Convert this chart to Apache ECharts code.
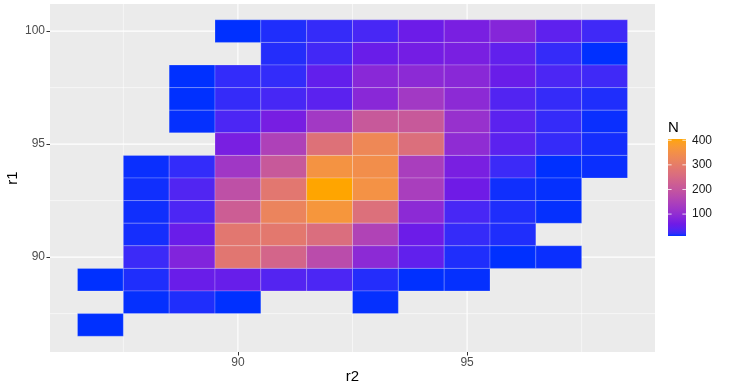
<!DOCTYPE html>
<html><head><meta charset="utf-8">
<script src="https://cdn.jsdelivr.net/npm/echarts@6/dist/echarts.min.js"></script>
<style>html,body{margin:0;padding:0;background:#fff}#c{width:730px;height:389px}</style>
</head><body><div id="c"></div>
<script>
// ---- data ----
const r2Levels = [87, 88, 89, 90, 91, 92, 93, 94, 95, 96, 97, 98];
const r1Levels = [100, 99, 98, 97, 96, 95, 94, 93, 92, 91, 90, 89, 88, 87];
const n_r1_100 = [null, null, null, 11, 17, 22, 31, 57, 70, 85, 45, 27];
const n_r1_99  = [null, null, null, null, 18, 28, 54, 65, 70, 47, 22, 11];
const n_r1_98  = [null, null, 11, 21, 21, 48, 90, 94, 90, 54, 33, 27];
const n_r1_97  = [null, null, 11, 22, 30, 43, 90, 128, 94, 37, 22, 17];
const n_r1_96  = [null, null, 12, 33, 68, 128, 208, 208, 110, 43, 22, 13];
const n_r1_95  = [null, null, null, 70, 150, 272, 330, 265, 98, 43, 22, 15];
const n_r1_94  = [null, 13, 21, 125, 208, 358, 346, 141, 70, 25, 11, 13];
const n_r1_93  = [null, 14, 36, 185, 287, 405, 355, 141, 60, 14, 12, null];
const n_r1_92  = [null, 14, 33, 220, 318, 365, 267, 94, 31, 17, 12, null];
const n_r1_91  = [null, 15, 54, 287, 290, 262, 155, 57, 22, 17, null, null];
const n_r1_90  = [null, 25, 80, 285, 240, 175, 94, 47, 17, 11, 13, null];
const n_r1_89  = [11, 17, 54, 52, 38, 33, 18, 11, 12, null, null, null];
const n_r1_88  = [null, 12, 17, 11, null, null, 12, null, null, null, null, null];
const n_r1_87  = [11, null, null, null, null, null, null, null, null, null, null, null];
const xBreaks = [90, 95];
const yBreaks = [90, 95, 100];
const xMinorBreaks = [87.5, 92.5, 97.5];
const yMinorBreaks = [87.5, 92.5, 97.5];
const legendBreaks = [100, 200, 300, 400];

// ---- build ----
const rows = [n_r1_100, n_r1_99, n_r1_98, n_r1_97, n_r1_96, n_r1_95, n_r1_94, n_r1_93,
              n_r1_92, n_r1_91, n_r1_90, n_r1_89, n_r1_88, n_r1_87];
const tiles = [];
rows.forEach((row, i) => row.forEach((n, j) => { if (n != null) tiles.push([r2Levels[j], r1Levels[i], n]); }));
const nMin = Math.min(...tiles.map(t => t[2]));
const nMax = Math.max(...tiles.map(t => t[2]));

// Lab interpolated gradient (like ggplot's scale_fill_gradient)
function s2l(c){c/=255;return c<=0.04045?c/12.92:Math.pow((c+0.055)/1.055,2.4);}
function l2s(c){c=Math.max(0,Math.min(1,c));return Math.round(255*(c<=0.0031308?12.92*c:1.055*Math.pow(c,1/2.4)-0.055));}
function hexToLab(h){
  const r=s2l(parseInt(h.slice(1,3),16)), g=s2l(parseInt(h.slice(3,5),16)), b=s2l(parseInt(h.slice(5,7),16));
  const X=(0.4124*r+0.3576*g+0.1805*b)/0.95047, Y=0.2126*r+0.7152*g+0.0722*b, Z=(0.0193*r+0.1192*g+0.9505*b)/1.08883;
  const f=t=>t>0.008856?Math.cbrt(t):7.787*t+16/116;
  const fx=f(X), fy=f(Y), fz=f(Z);
  return [116*fy-16, 500*(fx-fy), 200*(fy-fz)];
}
function labToHex(L,a,b){
  const fy=(L+16)/116, fx=fy+a/500, fz=fy-b/200;
  const fi=t=>t>0.206893?t*t*t:(t-16/116)/7.787;
  const X=0.95047*fi(fx), Y=fi(fy), Z=1.08883*fi(fz);
  const r=3.2406*X-1.5372*Y-0.4986*Z, g=-0.9689*X+1.8758*Y+0.0415*Z, bb=0.0557*X-0.2040*Y+1.0570*Z;
  return '#'+[r,g,bb].map(v=>l2s(v).toString(16).padStart(2,'0')).join('');
}
const LOW = '#0030FF', BLUE = '#0000FF', HIGH = '#FFA500';
const lowLab = hexToLab(LOW), blueLab = hexToLab(BLUE), highLab = hexToLab(HIGH);
const ramp = [];
for (let i = 0; i <= 40; i++) {
  const t = i / 40;
  const w = Math.max(0, 1 - t / 0.12);
  const c = lowLab.map((v, k) => {
    const a = v + (highLab[k] - v) * t;
    const b = blueLab[k] + (highLab[k] - blueLab[k]) * t;
    return w * a + (1 - w) * b;
  });
  ramp.push(labToHex(...c));
}

const FONT = '"Liberation Sans", Arial, sans-serif';
const XMIN = 85.9, XMAX = 99.1, YMIN = 85.8, YMAX = 101.2;

const chart = echarts.init(document.getElementById('c'), null, {renderer: 'canvas'});
const option = {
  animation: false,
  grid: [
    {left: 50, right: 75, top: 4, bottom: 37, show: true, backgroundColor: '#EBEBEB', borderWidth: 0,
     containLabel: false, outerBoundsMode: 'none'},
    {left: 668, top: 139, width: 18, height: 97, containLabel: false, outerBoundsMode: 'none'}
  ],
  xAxis: [
    {type: 'value', gridIndex: 0, min: XMIN, max: XMAX, splitLine: {show: false}, axisLine: {show: false},
     axisTick: {show: true, customValues: xBreaks, length: 3.5, lineStyle: {color: '#333333', width: 1}},
     axisLabel: {customValues: xBreaks, color: '#4D4D4D', fontSize: 12, margin: 5, fontFamily: FONT},
     name: 'r2', nameLocation: 'middle', nameGap: 17, nameMoveOverlap: false,
     nameTextStyle: {fontSize: 15, color: '#000', fontFamily: FONT}},
    {type: 'value', gridIndex: 1, min: 0, max: 1, show: false}
  ],
  yAxis: [
    {type: 'value', gridIndex: 0, min: YMIN, max: YMAX, splitLine: {show: false}, axisLine: {show: false},
     axisTick: {show: true, customValues: yBreaks, length: 3.5, lineStyle: {color: '#333333', width: 1}},
     axisLabel: {customValues: yBreaks, color: '#4D4D4D', fontSize: 12, margin: 5, fontFamily: FONT},
     name: 'r1', nameLocation: 'middle', nameGap: 30, nameRotate: 90, nameMoveOverlap: false,
     nameTextStyle: {fontSize: 15, color: '#000', fontFamily: FONT}},
    {type: 'value', gridIndex: 1, min: nMin, max: nMax, position: 'right',
     axisLine: {show: false}, axisTick: {show: false}, splitLine: {show: false},
     axisLabel: {customValues: legendBreaks, color: '#1A1A1A', fontSize: 12, margin: 6, fontFamily: FONT}}
  ],
  visualMap: {show: false, type: 'continuous', min: nMin, max: nMax, dimension: 2, seriesIndex: 2,
              inRange: {color: ramp}},
  graphic: [{type: 'text', left: 668, top: 120, style: {text: 'N', fontSize: 15, fill: '#000', font: '15px ' + FONT}}],
  series: [
    { // vertical gridlines
      type: 'custom', xAxisIndex: 0, yAxisIndex: 0, z: 1, silent: true,
      data: xMinorBreaks.map(v => [v, 0]).concat(xBreaks.map(v => [v, 1])),
      renderItem(params, api) {
        const v = api.value(0), major = api.value(1) === 1;
        const p0 = api.coord([v, YMIN]), p1 = api.coord([v, YMAX]);
        return {type: 'line', shape: {x1: p0[0], y1: p0[1], x2: p1[0], y2: p1[1]},
                style: {stroke: major ? '#FFFFFF' : 'rgba(255,255,255,0.55)', lineWidth: major ? 1.1 : 1}};
      }
    },
    { // horizontal gridlines
      type: 'custom', xAxisIndex: 0, yAxisIndex: 0, z: 1, silent: true,
      data: yMinorBreaks.map(v => [v, 0]).concat(yBreaks.map(v => [v, 1])),
      renderItem(params, api) {
        const v = api.value(0), major = api.value(1) === 1;
        const p0 = api.coord([XMIN, v]), p1 = api.coord([XMAX, v]);
        return {type: 'line', shape: {x1: p0[0], y1: p0[1], x2: p1[0], y2: p1[1]},
                style: {stroke: major ? '#FFFFFF' : 'rgba(255,255,255,0.55)', lineWidth: major ? 1.1 : 1}};
      }
    },
    { // tiles
      type: 'custom', xAxisIndex: 0, yAxisIndex: 0, z: 2,
      dimensions: ['r2', 'r1', 'N'], encode: {x: 0, y: 1},
      data: tiles,
      renderItem(params, api) {
        const x = api.value(0), y = api.value(1);
        const p0 = api.coord([x - 0.5, y + 0.5]), p1 = api.coord([x + 0.5, y - 0.5]);
        return {type: 'rect', shape: {x: p0[0], y: p0[1], width: p1[0] - p0[0], height: p1[1] - p0[1]},
                style: {fill: api.visual('color'), stroke: 'rgba(255,255,255,0.3)', lineWidth: 0.7}};
      }
    },
    { // colourbar
      type: 'custom', xAxisIndex: 1, yAxisIndex: 1, z: 2, silent: true,
      data: [[0, nMin]],
      renderItem(params, api) {
        const p0 = api.coord([0, nMax]), p1 = api.coord([1, nMin]);
        const w = p1[0] - p0[0], h = p1[1] - p0[1];
        const stops = ramp.map((c, i) => ({offset: i / (ramp.length - 1), color: c}));
        const children = [{type: 'rect', shape: {x: p0[0], y: p0[1], width: w, height: h},
          style: {fill: new echarts.graphic.LinearGradient(0, 1, 0, 0, stops)}}];
        legendBreaks.forEach(b => {
          const y = api.coord([0, b])[1];
          children.push({type: 'line', shape: {x1: p0[0], y1: y, x2: p0[0] + w / 5, y2: y}, style: {stroke: 'rgba(255,255,255,0.8)', lineWidth: 1}});
          children.push({type: 'line', shape: {x1: p1[0] - w / 5, y1: y, x2: p1[0], y2: y}, style: {stroke: 'rgba(255,255,255,0.8)', lineWidth: 1}});
        });
        return {type: 'group', children};
      }
    }
  ]
};
chart.setOption(option);
</script>
</body></html>
